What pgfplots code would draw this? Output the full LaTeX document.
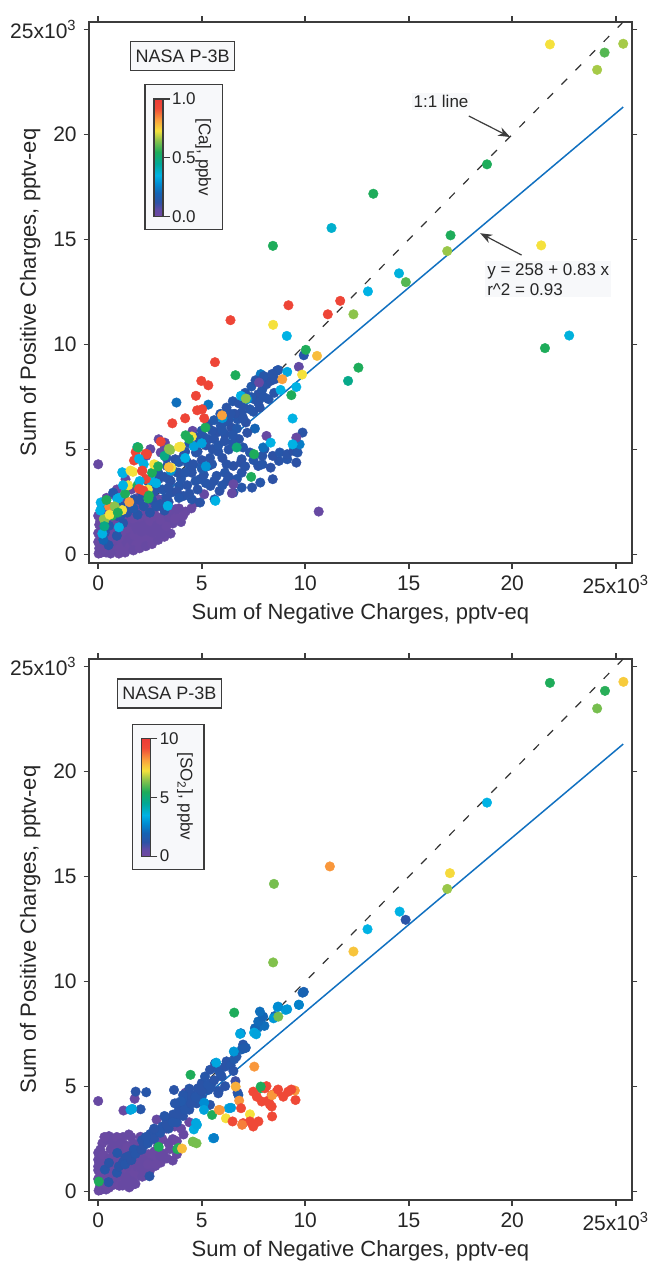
\documentclass[border=0pt]{standalone}
\usepackage{fontspec}
\setmainfont{Liberation Sans}
\usepackage{pgfplots}
\usepackage{pgfplotstable}
\pgfplotsset{compat=1.18}
\usetikzlibrary{arrows.meta}
\definecolor{boxgray}{RGB}{247,248,250}
\definecolor{lineblue}{RGB}{16,112,192}
\definecolor{axgray}{RGB}{60,60,60}
\pgfplotsset{colormap={igor}{rgb255(0pt)=(112,72,160) rgb255(6pt)=(95,75,165) rgb255(12pt)=(45,82,165) rgb255(20pt)=(20,100,180) rgb255(28pt)=(0,140,210) rgb255(35pt)=(0,178,228) rgb255(45pt)=(0,168,150) rgb255(55pt)=(30,172,90) rgb255(65pt)=(140,195,75) rgb255(73pt)=(245,225,60) rgb255(82pt)=(250,160,60) rgb255(92pt)=(240,75,55) rgb255(100pt)=(235,60,55)}}

\pgfplotstableread{
x y c
0.02 0.05 0.02
0.08 0.22 0.03
0.12 0.08 0.02
0.18 0.38 0.03
0.22 0.15 0.02
0.28 0.55 0.03
0.32 0.28 0.02
0.38 0.10 0.03
0.42 0.68 0.02
0.48 0.40 0.03
0.52 0.18 0.02
0.58 0.82 0.03
0.62 0.50 0.02
0.68 0.30 0.03
0.72 0.95 0.02
0.78 0.62 0.03
0.84 0.40 0.02
0.88 1.15 0.03
0.92 0.75 0.02
0.98 0.50 0.03
1.02 0.28 0.02
1.08 1.00 0.03
1.12 0.65 0.02
1.18 1.30 0.03
1.22 0.42 0.02
1.28 0.85 0.03
1.32 1.10 0.02
1.38 0.58 0.03
1.44 1.42 0.02
1.48 0.75 0.03
1.52 0.38 0.02
1.58 1.02 0.03
1.64 1.25 0.02
1.68 0.62 0.03
1.74 0.92 0.02
1.80 1.50 0.03
1.84 0.48 0.02
1.90 1.18 0.03
1.96 0.78 0.02
2.00 1.36 0.03
2.06 0.98 0.02
2.12 1.62 0.03
2.16 0.62 0.02
2.22 1.22 0.03
2.30 0.92 0.02
2.36 1.48 0.03
2.42 1.78 0.02
2.50 1.12 0.03
2.56 0.72 0.02
2.62 1.42 0.03
2.72 1.92 0.02
2.76 1.22 0.03
2.86 1.62 0.02
2.96 0.98 0.03
3.02 1.38 0.02
3.12 1.82 0.03
3.22 1.18 0.02
3.32 1.58 0.03
3.46 2.02 0.02
3.60 1.48 0.03
3.80 1.78 0.02
4.00 1.55 0.03
4.22 2.05 0.02
4.50 2.20 0.03
0.00 0.60 0.02
0.00 1.02 0.03
0.05 1.42 0.02
0.00 1.85 0.03
0.10 0.82 0.02
0.20 1.20 0.03
0.30 0.92 0.02
0.35 1.62 0.03
0.50 1.05 0.02
0.55 1.32 0.03
0.70 1.62 0.02
0.80 1.25 0.03
0.95 1.72 0.02
1.05 1.45 0.03
1.25 1.78 0.02
1.35 2.20 0.03
1.55 1.92 0.02
0.60 2.02 0.03
0.20 2.30 0.02
1.20 2.60 0.03
0.75 2.85 0.02
2.00 2.30 0.03
2.55 2.50 0.02
1.30 0.10 0.02
1.70 0.20 0.03
2.00 0.30 0.02
2.30 0.40 0.03
2.60 0.50 0.02
2.90 0.70 0.03
3.20 0.85 0.02
3.50 1.00 0.03
1.00 0.05 0.02
0.60 0.05 0.03
0.15 0.60 0.02
0.25 0.85 0.03
0.40 1.20 0.02
0.45 0.90 0.03
0.65 1.05 0.02
0.85 1.45 0.03
1.00 0.80 0.02
1.15 1.60 0.03
1.40 1.25 0.02
1.50 1.55 0.03
1.70 1.70 0.02
1.85 1.30 0.03
2.00 1.80 0.02
2.10 1.10 0.03
2.25 1.95 0.02
2.40 1.30 0.03
2.50 1.60 0.02
2.65 1.05 0.03
2.70 1.70 0.02
2.85 1.40 0.03
3.00 1.65 0.02
3.10 1.00 0.03
3.30 1.35 0.02
3.40 1.80 0.03
3.70 1.70 0.02
3.90 2.20 0.03
4.10 1.85 0.02
2.30 2.10 0.03
2.60 2.20 0.02
2.90 2.30 0.03
3.20 2.30 0.02
0.05 0.30 0.03
0.10 1.60 0.02
0.30 1.90 0.03
0.45 2.10 0.02
0.60 1.80 0.03
0.85 2.15 0.02
1.10 2.00 0.03
1.40 2.50 0.02
1.70 2.45 0.03
1.90 2.70 0.02
0.40 2.70 0.03
0.90 3.10 0.02
1.60 3.10 0.03
2.30 3.00 0.02
0.00 4.30 0.03
2.92 2.63 0.03
3.72 2.16 0.03
4.72 2.48 0.03
5.12 2.87 0.04
3.02 4.86 0.04
3.22 5.33 0.05
4.56 5.89 0.04
2.92 5.49 0.04
3.22 5.10 0.04
2.52 5.02 0.05
2.32 4.70 0.04
1.32 3.59 0.04
0.50 0.45 0.14
0.25 0.70 0.20
0.90 0.90 0.14
1.20 1.50 0.13
1.00 2.30 0.14
0.72 2.95 0.14
0.32 1.05 0.13
0.52 1.37 0.14
0.92 1.84 0.13
1.32 2.32 0.14
1.72 2.63 0.13
2.12 2.95 0.14
2.52 3.27 0.13
2.92 3.59 0.12
3.42 3.59 0.13
3.32 4.22 0.14
3.72 4.54 0.12
3.82 3.90 0.13
3.52 2.95 0.13
3.92 3.27 0.14
4.12 2.79 0.13
4.52 2.63 0.14
4.92 2.48 0.13
4.12 4.70 0.12
4.42 4.22 0.14
4.72 4.86 0.13
4.92 5.33 0.12
5.32 5.49 0.14
5.52 5.02 0.13
5.72 5.81 0.12
5.92 6.13 0.14
6.12 5.73 0.13
6.43 6.05 0.12
6.73 6.44 0.14
6.93 6.76 0.13
7.13 6.29 0.12
7.33 6.92 0.14
7.53 7.40 0.13
7.73 7.63 0.12
7.93 7.87 0.14
8.13 8.11 0.13
8.33 8.27 0.12
8.63 8.75 0.13
8.23 7.40 0.14
7.73 7.24 0.13
4.52 3.90 0.13
4.92 3.59 0.14
5.32 4.22 0.12
5.72 3.75 0.13
6.12 3.90 0.14
6.53 4.22 0.12
6.93 4.54 0.13
7.33 4.86 0.14
5.42 3.27 0.13
5.86 3.03 0.12
5.62 2.63 0.14
6.23 3.51 0.13
6.93 3.19 0.14
6.53 2.95 0.12
7.43 3.19 0.13
7.83 3.43 0.14
8.43 3.59 0.12
6.93 3.90 0.13
6.89 4.38 0.12
7.73 4.22 0.13
7.93 4.30 0.14
8.33 4.14 0.12
8.73 4.46 0.13
9.13 4.54 0.14
9.57 4.38 0.12
8.03 5.02 0.13
8.43 4.70 0.12
8.77 4.86 0.14
9.13 4.78 0.13
9.43 4.94 0.12
9.63 4.86 0.14
7.93 4.70 0.13
7.97 5.10 0.22
9.87 5.81 0.13
9.73 5.25 0.25
6.53 6.68 0.22
7.57 6.00 0.20
3.78 7.24 0.22
5.32 7.14 0.24
7.85 8.59 0.24
8.53 8.35 0.13
8.69 8.79 0.14
9.93 9.49 0.14
2.50 2.00 0.13
3.00 2.40 0.14
3.30 2.70 0.13
3.80 3.00 0.12
4.30 3.30 0.13
4.70 3.50 0.14
5.10 3.80 0.13
5.50 4.30 0.14
6.00 4.60 0.12
6.30 5.00 0.13
5.00 4.50 0.12
4.50 4.00 0.13
4.00 3.60 0.14
2.20 2.30 0.13
1.90 1.90 0.14
2.60 2.60 0.13
3.10 3.10 0.14
3.50 3.50 0.12
3.90 3.90 0.13
4.30 4.40 0.14
4.80 4.90 0.13
5.20 5.20 0.12
5.60 5.50 0.13
6.00 5.90 0.14
6.30 6.40 0.13
6.60 6.70 0.12
7.00 7.10 0.13
7.40 7.50 0.14
6.80 5.50 0.13
7.20 5.80 0.12
6.50 5.30 0.14
5.80 4.90 0.13
6.20 4.30 0.13
7.00 5.10 0.14
1.50 2.20 0.15
2.80 3.20 0.14
3.40 3.20 0.13
1.10 1.90 0.14
1.40 2.00 0.13
1.70 2.20 0.15
2.00 2.60 0.13
2.30 2.80 0.14
2.70 3.00 0.13
2.40 3.50 0.16
2.90 3.90 0.14
3.20 3.70 0.13
3.60 4.00 0.14
3.30 4.60 0.13
3.90 4.40 0.15
4.20 4.90 0.13
4.40 5.30 0.14
4.70 5.60 0.13
5.00 5.90 0.14
5.30 6.20 0.13
5.60 6.40 0.15
5.90 6.70 0.14
6.20 7.00 0.13
6.50 7.30 0.14
6.80 7.20 0.13
7.10 7.70 0.14
7.40 8.00 0.15
7.60 8.30 0.13
8.00 8.50 0.14
8.40 8.60 0.13
5.10 5.60 0.14
5.50 5.90 0.13
6.10 6.30 0.14
6.40 6.70 0.13
6.70 6.00 0.15
7.00 6.50 0.13
7.50 6.80 0.14
7.80 7.00 0.13
8.00 7.50 0.14
8.50 7.70 0.13
4.20 3.90 0.14
4.60 4.30 0.13
5.00 4.10 0.15
5.40 4.60 0.13
5.80 5.20 0.14
6.10 5.40 0.13
6.50 5.70 0.14
4.80 3.10 0.13
5.20 3.40 0.14
5.60 3.50 0.13
6.00 3.30 0.14
6.30 3.70 0.13
6.70 3.60 0.14
7.10 4.20 0.13
7.50 4.50 0.14
3.40 2.50 0.13
3.90 2.70 0.14
4.40 2.90 0.13
2.80 2.30 0.14
3.20 2.10 0.13
8.13 5.65 0.03
9.57 5.57 0.03
9.69 8.94 0.05
6.53 3.35 0.04
6.46 2.92 0.04
10.65 2.05 0.03
7.77 8.19 0.04
2.53 3.53 0.35
3.36 2.32 0.35
5.66 2.56 0.35
4.62 5.15 0.32
5.20 4.20 0.30
6.89 7.56 0.35
8.81 7.84 0.35
9.57 7.98 0.35
9.13 8.70 0.33
9.39 6.48 0.35
8.33 5.33 0.35
9.39 5.25 0.35
4.20 4.60 0.35
5.00 5.30 0.32
6.00 6.50 0.30
7.20 7.40 0.28
3.50 4.00 0.30
2.80 3.40 0.35
0.52 2.30 0.85
0.12 2.48 0.35
0.27 1.70 0.65
0.68 1.86 0.55
0.92 2.65 0.35
1.16 2.12 0.73
0.32 1.68 0.65
0.20 1.00 0.35
1.00 1.30 0.35
0.10 2.10 0.35
0.40 2.60 0.55
0.55 1.90 0.73
0.80 2.30 0.65
1.00 2.70 0.35
1.30 2.90 0.55
1.45 3.30 0.73
1.90 3.30 0.55
2.30 3.60 0.95
2.60 3.90 0.55
2.20 4.30 0.35
2.70 4.30 0.73
1.50 2.50 0.82
0.95 2.00 0.55
0.30 1.35 0.48
1.20 3.30 0.35
2.00 3.50 0.35
2.90 4.20 0.55
3.20 4.70 0.48
2.40 3.10 0.73
1.16 3.92 0.35
1.20 3.87 0.35
1.56 4.00 0.73
1.68 3.94 0.73
1.81 4.88 0.95
2.29 4.80 0.95
1.73 4.48 0.95
2.13 4.00 0.95
1.97 3.13 0.95
2.18 3.05 0.95
2.12 3.98 0.95
2.36 4.78 0.95
1.89 5.12 0.48
1.94 5.10 0.55
1.97 4.56 0.35
2.45 2.81 0.55
2.42 2.67 0.55
3.41 5.04 0.65
3.48 4.98 0.65
3.90 5.12 0.73
3.98 5.14 0.73
3.52 4.14 0.73
3.41 4.16 0.78
4.52 5.62 0.73
4.22 5.68 0.55
4.38 5.51 0.55
5.18 6.05 0.55
3.02 5.38 0.95
3.58 6.25 0.95
4.20 6.49 0.95
4.78 6.87 0.95
5.02 6.92 0.95
5.12 6.49 0.95
4.72 7.56 0.95
4.98 8.27 0.95
5.32 8.06 0.95
5.64 9.16 0.95
6.39 11.16 0.95
5.98 6.63 0.82
6.63 8.54 0.55
6.69 5.10 0.50
7.53 4.78 0.55
7.39 3.70 0.55
7.13 7.43 0.65
8.89 8.35 0.82
9.85 8.57 0.73
9.33 7.59 0.55
10.03 9.75 0.55
10.57 9.46 0.78
9.11 10.41 0.35
8.45 10.94 0.73
9.19 11.87 0.95
11.69 12.08 0.95
11.09 11.44 0.95
12.33 11.44 0.65
12.57 8.90 0.55
12.07 8.27 0.47
21.82 24.29 0.73
25.36 24.32 0.67
24.46 23.90 0.60
24.10 23.08 0.67
18.78 18.58 0.55
13.29 17.18 0.55
11.27 15.55 0.38
17.02 15.20 0.55
16.86 14.45 0.66
21.40 14.72 0.73
14.53 13.39 0.36
14.86 12.97 0.60
13.03 12.53 0.35
8.44 14.70 0.55
21.58 9.83 0.55
22.75 10.43 0.36
}\topdata

\pgfplotstableread{
x y c
0.02 0.05 0.2
0.08 0.22 0.3
0.12 0.08 0.2
0.18 0.38 0.3
0.22 0.15 0.2
0.28 0.55 0.3
0.32 0.28 0.2
0.38 0.10 0.3
0.42 0.68 0.2
0.48 0.40 0.3
0.52 0.18 0.2
0.58 0.82 0.3
0.62 0.50 0.2
0.68 0.30 0.3
0.72 0.95 0.2
0.78 0.62 0.3
0.84 0.40 0.2
0.88 1.15 0.3
0.92 0.75 0.2
0.98 0.50 0.3
1.02 0.28 0.2
1.08 1.00 0.3
1.12 0.65 0.2
1.18 1.30 0.3
1.22 0.42 0.2
1.28 0.85 0.3
1.32 1.10 0.2
1.38 0.58 0.3
1.44 1.42 0.2
1.48 0.75 0.3
1.58 1.02 0.3
1.64 1.25 0.2
1.68 0.62 0.3
1.74 0.92 0.2
1.80 1.50 0.3
1.90 1.18 0.3
1.96 0.78 0.2
2.00 1.36 0.3
2.06 0.98 0.2
2.12 1.62 0.3
2.22 1.22 0.3
2.30 0.92 0.2
2.36 1.48 0.3
2.42 1.78 0.2
2.50 1.12 0.3
2.62 1.42 0.3
2.72 1.92 0.2
2.76 1.22 0.3
2.86 1.62 0.2
3.02 1.38 0.2
3.12 1.82 0.3
3.32 1.58 0.3
3.46 2.02 0.2
3.60 1.48 0.3
3.80 1.78 0.2
0.00 0.60 0.2
0.00 1.02 0.3
0.05 1.42 0.2
0.00 1.85 0.3
0.10 0.82 0.2
0.20 1.20 0.3
0.30 0.92 0.2
0.35 1.62 0.3
0.50 1.05 0.2
0.55 1.32 0.3
0.70 1.62 0.2
0.80 1.25 0.3
0.95 1.72 0.2
1.05 1.45 0.3
1.25 1.78 0.2
1.35 2.20 0.3
1.55 1.92 0.2
0.60 2.02 0.3
0.20 2.30 0.2
1.20 2.60 0.3
0.75 2.45 0.2
2.00 2.30 0.3
0.52 2.64 0.3
1.48 2.72 0.3
2.04 2.61 0.3
1.80 0.37 0.3
1.18 0.29 0.3
0.44 2.46 0.3
0.00 1.52 0.3
0.00 1.20 0.3
1.64 0.32 0.3
2.13 0.71 0.3
1.00 2.00 0.3
1.70 2.30 0.3
2.40 2.40 0.3
2.90 2.70 0.3
3.30 3.00 0.3
3.60 2.50 0.3
4.12 2.72 0.3
2.82 3.43 0.3
0.10 2.00 0.3
0.30 2.60 0.2
0.70 2.20 0.3
0.90 2.60 0.2
1.10 2.30 0.3
1.40 2.10 0.2
1.60 2.60 0.3
0.25 1.75 0.2
0.55 1.60 0.3
0.85 1.90 0.2
2.20 1.50 0.3
2.60 1.80 0.2
2.90 2.20 0.3
3.10 2.50 0.2
2.50 1.00 0.3
2.80 1.30 0.2
3.00 1.70 0.3
0.40 0.30 0.2
1.50 0.20 0.3
0.15 0.60 0.2
0.40 1.20 0.3
0.65 1.05 0.2
1.00 0.80 0.3
1.15 1.60 0.2
1.40 1.25 0.3
1.70 1.70 0.2
2.10 1.10 0.3
2.40 1.30 0.2
3.40 2.30 0.3
3.80 2.40 0.2
4.00 3.00 0.3
4.40 3.30 0.2
3.70 3.10 0.3
0.00 4.31 0.3
1.22 3.86 0.3
1.76 4.42 0.3
4.22 4.71 0.3
4.26 4.31 0.4
4.52 4.39 0.4
0.50 0.45 1.3
0.90 0.90 1.4
1.20 1.40 1.3
0.32 1.05 1.4
0.52 1.37 1.3
0.92 1.84 1.4
1.32 1.62 1.3
1.72 2.00 1.4
2.12 2.45 1.3
2.52 2.75 1.4
2.48 0.73 1.3
1.50 1.70 1.3
2.20 2.20 1.3
1.90 1.95 1.4
2.60 2.60 1.3
2.80 2.90 1.4
3.10 3.10 1.4
3.30 3.40 1.3
3.50 3.50 1.2
3.70 3.60 1.4
3.90 3.90 1.3
4.10 4.10 1.4
4.30 4.40 1.4
4.50 4.60 1.3
4.80 4.90 1.3
5.00 5.16 1.3
5.16 5.48 1.4
5.40 5.80 1.3
5.64 6.10 1.3
5.80 5.80 1.4
6.12 5.95 1.3
5.96 5.48 1.4
5.48 5.16 1.2
4.84 4.92 1.3
5.32 4.84 1.4
5.80 4.68 1.3
5.00 4.52 1.4
5.40 4.13 1.3
4.76 4.20 1.4
3.40 3.00 1.3
3.80 3.30 1.4
4.10 3.60 1.3
4.40 3.90 1.3
3.62 3.67 1.3
1.00 1.20 1.3
1.30 1.30 1.4
1.60 1.50 1.3
1.80 1.80 1.4
2.10 2.00 1.3
2.40 2.30 1.4
2.70 2.50 1.3
3.00 2.80 1.4
3.30 3.20 1.3
3.60 3.30 1.4
3.90 3.70 1.3
4.20 3.90 1.4
4.50 4.20 1.3
4.70 4.50 1.4
5.00 4.80 1.3
5.30 5.10 1.4
5.60 5.30 1.3
5.90 5.60 1.4
6.20 6.20 1.3
6.40 6.00 1.4
6.60 6.60 1.3
7.00 7.00 1.4
4.40 4.90 1.3
4.10 4.60 1.4
3.80 4.20 1.3
3.20 3.60 1.4
2.70 3.00 1.3
2.30 2.60 1.4
1.81 4.76 1.3
2.32 4.73 1.4
3.66 4.84 1.3
2.05 3.92 1.4
4.00 4.30 1.5
3.70 4.20 1.4
6.53 5.74 1.3
6.63 5.26 1.0
6.73 4.71 1.0
6.13 5.02 1.3
5.82 4.79 1.3
5.42 4.94 1.4
6.57 6.30 1.5
6.93 6.77 1.8
7.13 6.85 1.8
7.09 6.83 1.6
6.68 6.43 1.5
6.89 7.54 2.3
7.73 7.81 2.2
7.57 7.78 2.0
8.03 7.89 2.2
7.73 8.10 2.1
7.97 8.33 2.0
7.81 8.57 2.2
8.53 8.36 2.0
9.93 9.51 1.8
9.87 9.47 1.9
6.77 4.60 1.5
5.12 4.23 2.8
1.56 3.89 3.2
1.64 3.94 3.3
5.70 6.14 3.3
6.55 6.67 3.0
6.85 7.51 3.3
7.53 7.57 3.3
7.63 7.49 3.2
8.47 8.25 3.0
8.67 8.78 3.2
9.05 8.65 3.2
9.13 8.68 3.0
8.69 8.81 2.8
9.70 8.89 3.0
9.69 8.90 2.6
4.72 3.27 3.3
4.62 2.96 3.4
4.77 3.18 3.3
5.11 3.89 3.2
6.31 3.97 3.2
6.42 3.99 3.1
5.55 2.54 3.2
5.60 2.55 2.5
0.03 0.48 5.5
4.46 5.56 5.5
3.82 2.02 5.5
3.88 2.08 5.6
2.92 2.13 5.5
4.57 2.38 6.3
4.58 2.37 6.3
4.05 2.05 7.8
5.50 3.65 5.5
4.75 2.30 6.3
8.70 8.33 6.3
6.57 8.52 5.5
7.85 4.92 5.5
6.64 5.00 8.0
6.81 4.33 8.3
7.54 5.95 8.3
5.83 3.89 8.3
6.17 3.49 7.3
7.33 3.68 7.3
7.49 4.76 9.3
8.05 4.92 9.3
8.38 4.60 9.3
8.62 4.76 9.3
8.94 4.52 9.3
9.18 4.76 9.3
9.53 4.36 9.3
8.38 4.05 9.3
7.90 4.29 9.3
7.66 4.52 9.3
8.21 4.33 9.3
8.29 4.15 9.3
8.40 4.59 8.3
9.50 4.81 8.3
9.33 4.86 9.3
8.69 4.86 9.3
8.13 5.02 9.3
7.85 5.00 5.5
8.40 3.58 9.3
7.33 3.34 9.3
7.00 3.26 9.3
6.49 3.34 9.3
6.95 3.18 8.6
7.74 3.34 9.3
7.49 3.10 9.3
6.90 3.97 9.3
5.88 3.88 8.3
21.82 24.22 5.5
24.48 23.84 5.6
24.10 23.00 6.3
25.37 24.27 7.6
18.78 18.52 3.5
11.19 15.48 8.3
8.49 14.65 6.3
16.99 15.16 7.4
16.86 14.41 6.6
14.56 13.33 3.5
14.85 12.94 1.3
13.01 12.49 3.5
12.33 11.43 7.7
8.45 10.91 6.4
}\botdata

\pgfplotsset{
  panel/.style={
    scale only axis, width=271.2pt, height=270.65pt,
    xmin=-0.43, xmax=25.77, ymin=-0.40, ymax=25.37,
    xtick={0,5,10,15,20,25}, ytick={0,5,10,15,20,25},
    xticklabels={0,5,10,15,20,25x10\textsuperscript{3}},
    yticklabels={0,5,10,15,20,25x10\textsuperscript{3}},
    tick align=outside, tick pos=both,
    xticklabel pos=lower, yticklabel pos=left,
    major tick length=2.8pt,
    axis line style={axgray, line width=0.8pt},
    every tick/.style={axgray, line width=0.8pt},
    ticklabel style={font=\fontsize{10.5}{12}\selectfont, text=black!85},
    xlabel={Sum of Negative Charges, pptv-eq},
    ylabel={Sum of Positive Charges, pptv-eq},
    every axis x label/.style={at={(axis description cs:0.5,0)}, anchor=center, yshift=-25.3pt, font=\fontsize{11}{13}\selectfont, text=black!85},
    every axis y label/.style={at={(axis description cs:0,0.5)}, anchor=center, xshift=-29.6pt, rotate=90, font=\fontsize{11}{13}\selectfont, text=black!85},
    colormap name=igor,
  },
  pts/.style={scatter, only marks, mark=*, mark size=2.4pt, scatter src=explicit,
    scatter/use mapped color={draw=mapped color, fill=mapped color}, mark options={line width=0.2pt}},
  cbar/.style={
    at={(parent axis.north west)}, anchor=north west,
    width=4.5pt, height=58.7pt, scale only axis,
    yticklabel pos=right, ytick pos=right,
    tick align=outside, major tick length=3.3pt,
    every tick/.style={axgray, line width=0.6pt},
    axis line style={axgray, line width=0.6pt},
    yticklabel style={font=\fontsize{8.5}{10}\selectfont, text=black!85, inner sep=1pt},
  }
}

\begin{document}
\begin{tikzpicture}
\begin{axis}[panel, at={(0,0)},
  point meta min=0, point meta max=1,
  colorbar,
  colorbar style={cbar, xshift=23.85pt, yshift=-38.65pt, ytick={0,0.5,1}, yticklabels={0.0,0.5,1.0}}]
\draw[fill=boxgray, draw=axgray, line width=0.6pt] (axis cs:2.26,15.48) rectangle (axis cs:6.01,22.37);
\node[draw=axgray, fill=boxgray, line width=0.7pt, minimum width=52pt, minimum height=14.5pt, inner sep=1pt, font=\fontsize{9}{10}\selectfont, text=black!85] at (axis cs:4.08,23.74) {NASA P-3B};
\node[rotate=-90, font=\fontsize{8.5}{10}\selectfont, text=black!85] at (axis cs:5.07,18.92) {[Ca], ppbv};
\addplot[pts] table[x=x, y=y, meta=c] {\topdata};
\addplot[black!80, line width=0.6pt, dash pattern=on 4pt off 6pt] coordinates {(0,0) (25.37,25.37)};
\addplot[lineblue, line width=0.75pt] coordinates {(0,0.258) (25.36,21.307)};
\node[fill=boxgray, inner sep=1pt, font=\fontsize{8.5}{10}\selectfont, text=black!85] at (axis cs:16.56,21.56) {1:1 line};
\draw[-{Stealth[length=6pt,width=4.5pt]}, axgray, line width=0.6pt] (axis cs:17.9,20.88) -- (axis cs:19.9,19.88);
\node[fill=boxgray, anchor=north west, align=left, inner sep=1pt, font=\fontsize{8.5}{10}\selectfont, text=black!85] at (axis cs:18.68,13.99) {y = 258 + 0.83 x\\r\textasciicircum 2 = 0.93};
\draw[-{Stealth[length=6pt,width=4.5pt]}, axgray, line width=0.6pt] (axis cs:20.45,14.26) -- (axis cs:18.45,15.3);
\end{axis}

\begin{axis}[panel, at={(0,-318.5pt)},
  point meta min=0, point meta max=10,
  colorbar,
  colorbar style={cbar, xshift=17.7pt, yshift=-40pt, ytick={0,5,10}, yticklabels={0,5,10}}]
\draw[fill=boxgray, draw=axgray, line width=0.6pt] (axis cs:1.66,15.32) rectangle (axis cs:5.11,22.22);
\node[draw=axgray, fill=boxgray, line width=0.7pt, minimum width=52pt, minimum height=14.5pt, inner sep=1pt, font=\fontsize{9}{10}\selectfont, text=black!85] at (axis cs:3.44,23.72) {NASA P-3B};
\node[rotate=-90, font=\fontsize{8.5}{10}\selectfont, text=black!85] at (axis cs:4.19,18.81) {[SO\textsubscript{2}], ppbv};
\addplot[pts] table[x=x, y=y, meta=c] {\botdata};
\addplot[black!80, line width=0.6pt, dash pattern=on 4pt off 6pt] coordinates {(0,0) (25.37,25.37)};
\addplot[lineblue, line width=0.75pt] coordinates {(0,0.258) (25.36,21.307)};
\end{axis}
\pgfresetboundingbox
\useasboundingbox (-44.65pt,-351pt) rectangle (280.85pt,281.5pt);
\end{tikzpicture}
\end{document}
